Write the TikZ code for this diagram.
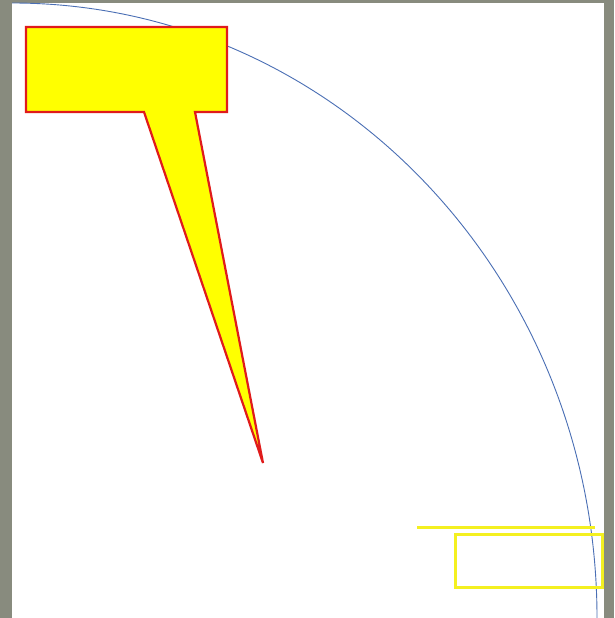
\documentclass[tikz,border=0pt]{standalone}
\usetikzlibrary{calc}
\definecolor{bggray}{HTML}{888B7E}
\definecolor{arcblue}{HTML}{4A6FB5}
\definecolor{calloutred}{HTML}{E01B1B}
\definecolor{calloutyellow}{HTML}{FFFF00}
\definecolor{markyellow}{HTML}{F4F020}
\tikzset{
  arcline/.style={draw=arcblue, line width=0.9pt},
  callout/.style={draw=calloutred, fill=calloutyellow, line width=2.2pt, line join=miter},
  yellowmark/.style={draw=markyellow, line width=3pt}
}
\begin{document}
\begin{tikzpicture}[x=1pt,y=-1pt]
\useasboundingbox (0,0) rectangle (614,618);
\fill[bggray] (0,0) rectangle (614,618);
\fill[white] (12,3) rectangle (604,618);
% quarter ellipse arc
\draw[arcline] (12,3) arc[start angle=90, end angle=0, x radius=585, y radius=-615];
% callout
\draw[callout] (26,27) -- (227,27) -- (227,112) -- (195,112) -- (263,463) -- (144,112) -- (26,112) -- cycle;
% yellow marks
\draw[yellowmark] (417,527) -- (595,527);
\draw[yellowmark] (455,534) rectangle (602,587);
\end{tikzpicture}
\end{document}
